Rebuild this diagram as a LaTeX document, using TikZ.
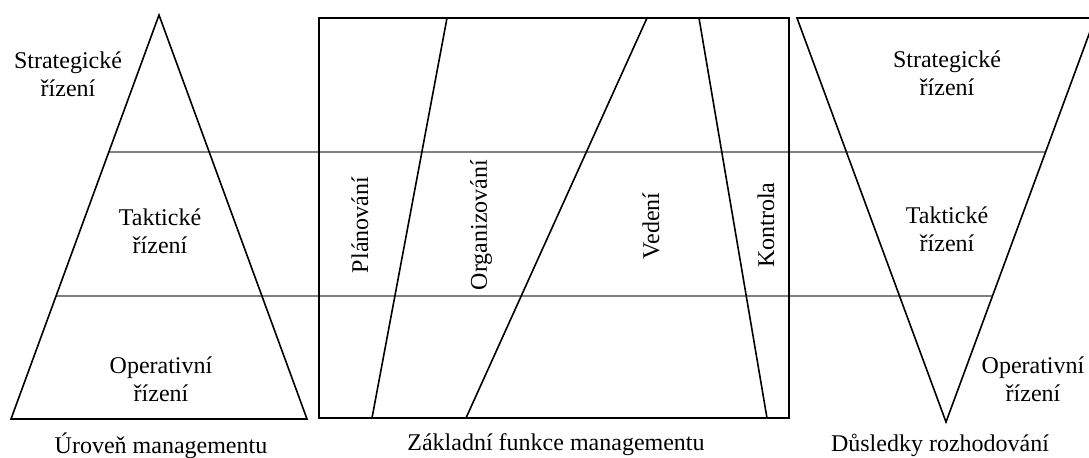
\documentclass[tikz,border=0pt]{standalone}
\usepackage{fontspec}
\setmainfont{Liberation Serif}
\usetikzlibrary{positioning}

\begin{document}
\begin{tikzpicture}[x=0.5pt, y=-0.5pt, thick,
    level/.style = {draw=gray, line width=0.7pt},
    lbl/.style = {align=center, inner sep=0pt, font=\fontsize{12}{14}\selectfont},
    func/.style = {lbl, rotate=90}]
    \useasboundingbox (0,0) rectangle (1089,457);
    \clip (0,0) rectangle (1089,457);

    % pyramid, box and funnel
    \coordinate (pTop) at (159,15);
    \coordinate (pLeft) at (11,419);
    \coordinate (pRight) at (307,419);
    \coordinate (boxNW) at (319,18);
    \coordinate (boxSE) at (789,418);
    \coordinate (fLeft) at (797,18);
    \coordinate (fRight) at (1095,18);
    \coordinate (fTip) at (946,422);

    % level borders
    \coordinate (up1) at (109,152);
    \coordinate (up2) at (1046,152);
    \coordinate (low1) at (56,296);
    \coordinate (low2) at (992,296);
    \draw[level] (up1) -- (up2);
    \draw[level] (low1) -- (low2);

    \draw (pTop) -- (pLeft) -- (pRight) -- cycle;
    \draw (boxNW) rectangle (boxSE);
    \draw (fLeft) -- (fRight) -- (fTip) -- cycle;

    % split of the functions
    \coordinate (a1) at (447,18);  \coordinate (a2) at (372,418);
    \coordinate (b1) at (647,18);  \coordinate (b2) at (466,418);
    \coordinate (c1) at (699,18);  \coordinate (c2) at (767,418);
    \draw (a1) -- (a2);
    \draw (b1) -- (b2);
    \draw (c1) -- (c2);

    \node[lbl] (strat) at (68,74) {Strategické\\řízení};
    \node[lbl] (takt) at (160,231) {Taktické\\řízení};
    \node[lbl] (oper) at (161,379) {Operativní\\řízení};

    \node[func] (plan) at (360,225) {Plánování};
    \node[func] (org) at (481,225) {Organizování};
    \node[func] (ved) at (651,226) {Vedení};
    \node[func] (kon) at (766,225) {Kontrola};

    \node[lbl] (strat2) at (947,73) {Strategické\\řízení};
    \node[lbl] (takt2) at (947,229) {Taktické\\řízení};
    \node[lbl] (oper2) at (1033,379) {Operativní\\řízení};

    \node[lbl] (uroven) at (161,446) {Úroveň managementu};
    \node[lbl] (funkce) at (556,445) {Základní funkce managementu};
    \node[lbl] (dusl) at (940,445) {Důsledky rozhodování};
\end{tikzpicture}
\end{document}
